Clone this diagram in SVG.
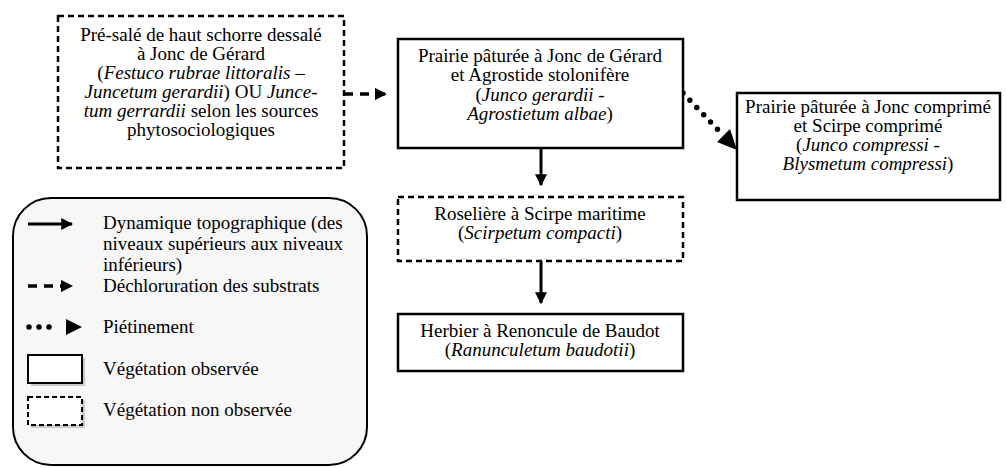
<svg xmlns="http://www.w3.org/2000/svg" width="1006" height="468" viewBox="0 0 1006 468">
<defs>
<style>
text,tspan{font-family:"Liberation Serif","Times New Roman",serif;font-size:19px;fill:#000}
.c{text-anchor:middle}
.i{font-family:"Liberation Serif","Times New Roman",serif;font-style:italic}
.box{fill:#fff;stroke:#000;stroke-width:2.5}
.dbox{fill:#fff;stroke:#000;stroke-width:2.5;stroke-dasharray:6 4}
.solid{fill:none;stroke:#000;stroke-width:3}
.dash{fill:none;stroke:#000;stroke-width:3.5;stroke-dasharray:9 7}
.dot{fill:none;stroke:#000;stroke-width:5.5;stroke-linecap:round;stroke-dasharray:0 10}
</style>
<marker id="ah" viewBox="0 0 10 10" refX="9" refY="5" markerWidth="4" markerHeight="4" orient="auto" markerUnits="strokeWidth"><path d="M0,0L10,5L0,10z" fill="#000"/></marker>
<marker id="ahd" viewBox="0 0 10 10" refX="9" refY="5" markerWidth="3.5" markerHeight="3.5" orient="auto" markerUnits="strokeWidth"><path d="M0,0L10,5L0,10z" fill="#000"/></marker>
</defs>

<g id="connectors">
<path class="dash" d="M344,94H386" marker-end="url(#ahd)"/>
<path class="solid" d="M541,148V185" marker-end="url(#ah)"/>
<path class="solid" d="M541,261V303" marker-end="url(#ah)"/>
<path class="dot" d="M683,93L722,134"/>
<path d="M737,150L717,142L730,129z" fill="#000"/>
</g>

<g id="n1">
<rect class="dbox" x="58" y="16" width="286" height="152"/>
<text class="c" x="201" y="41">Pré-salé de haut schorre dessalé</text>
<text class="c" x="201" y="60">à Jonc de Gérard</text>
<text class="c" x="201" y="79">(<tspan class="i">Festuco rubrae littoralis –</tspan></text>
<text class="c" x="201" y="98"><tspan class="i">Juncetum gerardii</tspan>) OU <tspan class="i">Junce-</tspan></text>
<text class="c" x="201" y="117"><tspan class="i">tum gerrardii</tspan> selon les sources</text>
<text class="c" x="201" y="136">phytosociologiques</text>
</g>

<g id="n2">
<rect class="box" x="398" y="39" width="285" height="109"/>
<text class="c" x="540" y="62">Prairie pâturée à Jonc de Gérard</text>
<text class="c" x="540" y="81">et Agrostide stolonifère</text>
<text class="c" x="540" y="101">(<tspan class="i">Junco gerardii -</tspan></text>
<text class="c" x="540" y="120"><tspan class="i">Agrostietum albae</tspan>)</text>
</g>

<g id="n3">
<rect class="box" x="737" y="93" width="263" height="107"/>
<text class="c" x="868" y="113">Prairie pâturée à Jonc comprimé</text>
<text class="c" x="868" y="132">et Scirpe comprimé</text>
<text class="c" x="868" y="151">(<tspan class="i">Junco compressi -</tspan></text>
<text class="c" x="868" y="170"><tspan class="i">Blysmetum compressi</tspan>)</text>
</g>

<g id="n4">
<rect class="dbox" x="398" y="197" width="285" height="64"/>
<text class="c" x="540" y="220">Roselière à Scirpe maritime</text>
<text class="c" x="540" y="239">(<tspan class="i">Scirpetum compacti</tspan>)</text>
</g>

<g id="n5">
<rect class="box" x="398" y="314" width="285" height="57"/>
<text class="c" x="540" y="337">Herbier à Renoncule de Baudot</text>
<text class="c" x="540" y="356">(<tspan class="i">Ranunculetum baudotii</tspan>)</text>
</g>

<g id="legend">
<rect x="13" y="198" width="354" height="267" rx="38" ry="38" fill="#f7f7f7" stroke="#000" stroke-width="2"/>
<path class="solid" d="M28,224H72" marker-end="url(#ah)"/>
<text x="103" y="229">Dynamique topographique (des</text>
<text x="103" y="250">niveaux supérieurs aux niveaux</text>
<text x="103" y="271">inférieurs)</text>
<path class="dash" d="M28,286H72" marker-end="url(#ahd)"/>
<text x="103" y="292">Déchloruration des substrats</text>
<path class="dot" d="M29,327H58"/>
<path d="M82,327L66,319V335z" fill="#000"/>
<text x="103" y="333">Piétinement</text>
<rect x="31" y="358" width="54" height="28" fill="#c8c8c8"/>
<rect x="28" y="355" width="54" height="28" fill="#fff" stroke="#000" stroke-width="2"/>
<text x="103" y="375">Végétation observée</text>
<rect x="31" y="400" width="54" height="28" fill="#c8c8c8"/>
<rect x="28" y="397" width="54" height="28" fill="#fff" stroke="#000" stroke-width="2" stroke-dasharray="5 3"/>
<text x="103" y="416">Végétation non observée</text>
</g>
</svg>
